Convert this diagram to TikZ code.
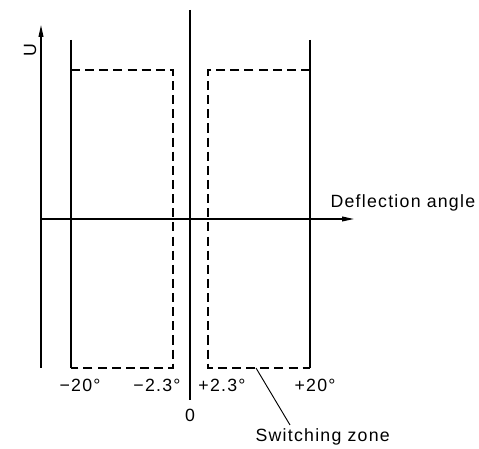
\documentclass[tikz,border=0pt]{standalone}
\usepackage{fontspec}
\setmainfont{Liberation Sans}[LetterSpace=7]
\usetikzlibrary{arrows.meta}

\begin{document}
\begin{tikzpicture}[x=0.75pt, y=0.75pt, font=\fontsize{13.3}{15}\selectfont,
  ax/.style={line width=0.9pt, -{Triangle[length=9pt, width=3.6pt]}},
  edge/.style={line width=0.9pt},
  zone/.style={line width=0.9pt, dash pattern=on 6.8pt off 3.8pt},
  lbl/.style={inner sep=1pt}]
  \useasboundingbox (0,0) rectangle (479,449);
  % axes
  \coordinate (ub) at (41,81);
  \coordinate (ut) at (41,424);
  \coordinate (o) at (41,230);
  \coordinate (dt) at (354,230);
  \draw[ax] (ub) -- (ut);
  \draw[ax] (o) -- (dt);
  \node[lbl, rotate=90] (u) at (30,399) {U};
  \node[lbl, anchor=west] (defl) at (329,246) {Deflection angle};
  % centre line
  \coordinate (ct) at (190,439);
  \coordinate (cb) at (190,49);
  \draw[edge] (ct) -- (cb);
  \node[lbl] (zero) at (190,34) {0};
  % left zone
  \coordinate (ltop) at (71,409);
  \coordinate (lbot) at (71,81);
  \coordinate (lc) at (71,379);
  \coordinate (li) at (173,379);
  \coordinate (lib) at (173,81);
  \draw[edge] (ltop) -- (lbot);
  \draw[zone] (lc) -- (li) -- (lib) -- (lbot);
  % right zone
  \coordinate (rtop) at (310,409);
  \coordinate (rbot) at (310,81);
  \coordinate (rc) at (310,379);
  \coordinate (ri) at (208,379);
  \coordinate (rib) at (208,81);
  \draw[edge] (rtop) -- (rbot);
  \draw[zone] (rc) -- (ri) -- (rib) -- (rbot);
  % tick labels
  \node[lbl] (m20) at (80,64) {−20°};
  \node[lbl] (m23) at (157,64) {−2.3°};
  \node[lbl] (p23) at (222,64) {+2.3°};
  \node[lbl] (p20) at (315,64) {+20°};
  % switching zone
  \node[lbl, anchor=west] (sw) at (254,12) {Switching zone};
  \coordinate (swp) at (256,81);
  \coordinate (swe) at (290,24);
  \draw[edge, line width=0.7pt] (swp) -- (swe);
\end{tikzpicture}
\end{document}
